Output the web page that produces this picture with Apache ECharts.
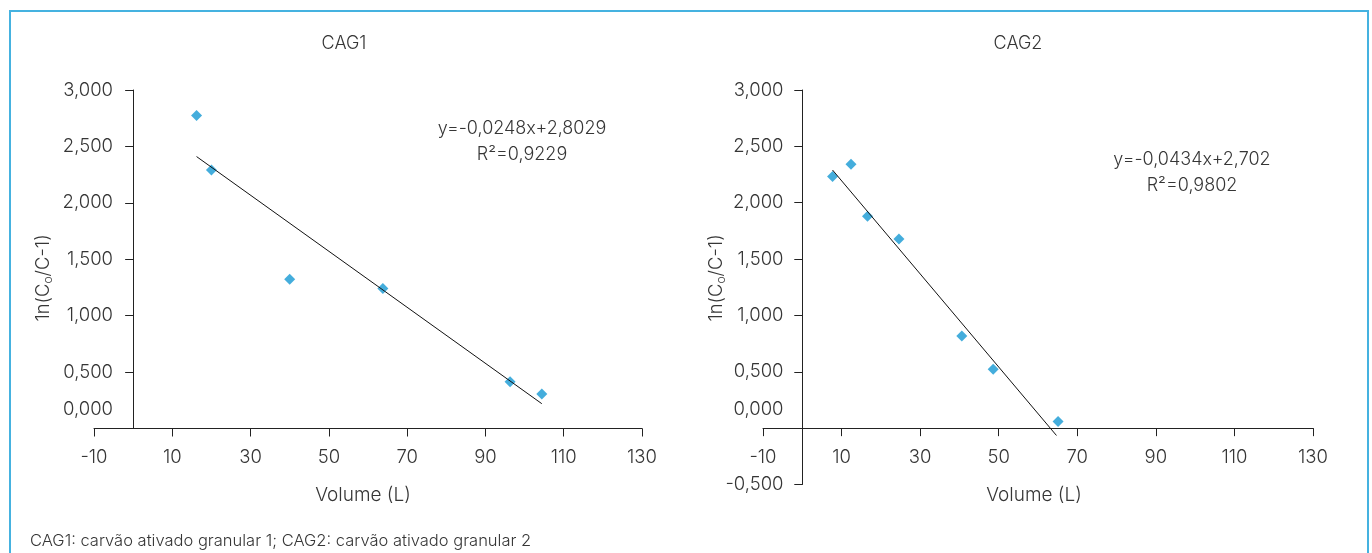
<!DOCTYPE html>
<html>
<head>
<meta charset="utf-8">
<script src="https://cdn.jsdelivr.net/npm/echarts@6/dist/echarts.min.js"></script>
<style>
html,body{margin:0;padding:0;background:#fff;}
#chart{width:1372px;height:553px;}
</style>
</head>
<body>
<div id="chart"></div>
<script>
// ---- data ----
const cag1Volume = [16.2, 20.0, 40.0, 63.8, 96.3, 104.4];
const cag1Ln     = [2.773, 2.29, 1.323, 1.24, 0.415, 0.306];
const cag1TrendVolume = [16.2, 104.4];
const cag1TrendLn     = [2.41, 0.22];

const cag2Volume = [7.7, 12.4, 16.6, 24.6, 40.6, 48.6, 65.1];
const cag2Ln     = [2.233, 2.342, 1.879, 1.678, 0.817, 0.522, 0.059];
const cag2TrendVolume = [7.7, 64.7];
const cag2TrendLn     = [2.29, -0.065];

const titles = ['CAG1', 'CAG2'];
const equations = ['y=-0,0248x+2,8029', 'y=-0,0434x+2,702'];
const rSquared = ['R²=0,9229', 'R²=0,9802'];
const xAxisName = 'Volume (L)';
const footnote = 'CAG1: carvão ativado granular 1; CAG2: carvão ativado granular 2';

// ---- chart ----
const FONT = 'Inter';
const TXT = '#363636';
const MARK = '#1598d3';
const TICK_FS = 18.5;

function pairs(xs, ys){ return xs.map((x,i)=>[x, ys[i]]); }
function yFmt(v){
  const s = Number(v).toFixed(3).replace('.', ',');
  return Math.abs(v) < 1e-9 ? '{up|' + s + '}' : s;
}
const labelBase = {color: TXT, fontFamily: FONT, fontWeight: 300, fontSize: TICK_FS};

function xAxis(idx, margin){
  return {
    type: 'value', gridIndex: idx, min: -10, max: 130, interval: 20,
    axisLine: {show: true, onZero: true, lineStyle: {color: '#222', width: 1}},
    axisTick: {show: true, length: 8, lineStyle: {color: '#222'}},
    axisLabel: Object.assign({margin: margin}, labelBase),
    splitLine: {show: false}
  };
}
function yAxis(idx, min, margin){
  return {
    type: 'value', gridIndex: idx, min: min, max: 3, interval: 0.5,
    axisLine: {show: true, onZero: true, lineStyle: {color: '#222', width: 1}},
    axisTick: {show: true, length: 8, lineStyle: {color: '#222'}},
    axisLabel: Object.assign({
      margin: margin, formatter: yFmt,
      rich: {up: {color: TXT, fontFamily: FONT, fontWeight: 300, fontSize: TICK_FS, padding: [0,0,38,0]}}
    }, labelBase),
    splitLine: {show: false}
  };
}

function txt(x, y, text, size, opts){
  return {
    type: 'text', x: x, y: y, silent: true,
    style: Object.assign({
      text: text, fill: TXT, font: '300 ' + size + 'px ' + FONT,
      align: 'center', verticalAlign: 'middle'
    }, opts || {})
  };
}
const yNameRich = {
  rich: {
    m: {fontFamily: FONT, fontWeight: 300, fontSize: 18.5, lineHeight: 22, fill: TXT},
    s: {fontFamily: FONT, fontWeight: 300, fontSize: 12, lineHeight: 22, verticalAlign: 'bottom', fill: TXT}
  }
};
const yNameText = '{m|1n(C}{s|o}{m|/C-1)}';

const option = {
  animation: false,
  backgroundColor: '#fff',
  grid: [
    {left: 94, right: 730, top: 90, bottom: 124.5, containLabel: false},
    {left: 763, right: 59, top: 90, bottom: 68.5, containLabel: false}
  ],
  xAxis: [xAxis(0, 19), xAxis(1, -37)],
  yAxis: [yAxis(0, 0, -19), yAxis(1, -0.5, -20.5)],
  series: [
    {type: 'scatter', xAxisIndex: 0, yAxisIndex: 0, data: pairs(cag1Volume, cag1Ln),
     symbol: 'diamond', symbolSize: 11, itemStyle: {color: MARK}, z: 3},
    {type: 'line', xAxisIndex: 0, yAxisIndex: 0, data: pairs(cag1TrendVolume, cag1TrendLn),
     symbol: 'none', lineStyle: {color: '#111', width: 1}, z: 4},
    {type: 'scatter', xAxisIndex: 1, yAxisIndex: 1, data: pairs(cag2Volume, cag2Ln),
     symbol: 'diamond', symbolSize: 11, itemStyle: {color: MARK}, z: 3},
    {type: 'line', xAxisIndex: 1, yAxisIndex: 1, data: pairs(cag2TrendVolume, cag2TrendLn),
     symbol: 'none', lineStyle: {color: '#111', width: 1}, z: 4}
  ],
  graphic: [
    {type: 'rect', shape: {x: 10, y: 11, width: 1358, height: 600},
     style: {fill: 'none', stroke: '#45b2e0', lineWidth: 2}, silent: true},
    txt(344, 44, titles[0], 18),
    txt(1018, 44, titles[1], 18),
    txt(522, 129, equations[0], 18),
    txt(522, 155, rSquared[0], 18),
    txt(1192, 160, equations[1], 18),
    txt(1192, 186, rSquared[1], 18),
    txt(363, 495, xAxisName, 19),
    txt(1034, 495, xAxisName, 19),
    {type: 'text', x: 43, y: 278, rotation: Math.PI/2, silent: true,
     style: Object.assign({text: yNameText, align: 'center', verticalAlign: 'middle'}, yNameRich)},
    {type: 'text', x: 716, y: 278, rotation: Math.PI/2, silent: true,
     style: Object.assign({text: yNameText, align: 'center', verticalAlign: 'middle'}, yNameRich)},
    txt(30, 541, footnote, 16.5, {align: 'left'})
  ]
};

const chart = echarts.init(document.getElementById('chart'), null, {renderer: 'canvas'});
chart.setOption(option);
</script>
</body>
</html>
